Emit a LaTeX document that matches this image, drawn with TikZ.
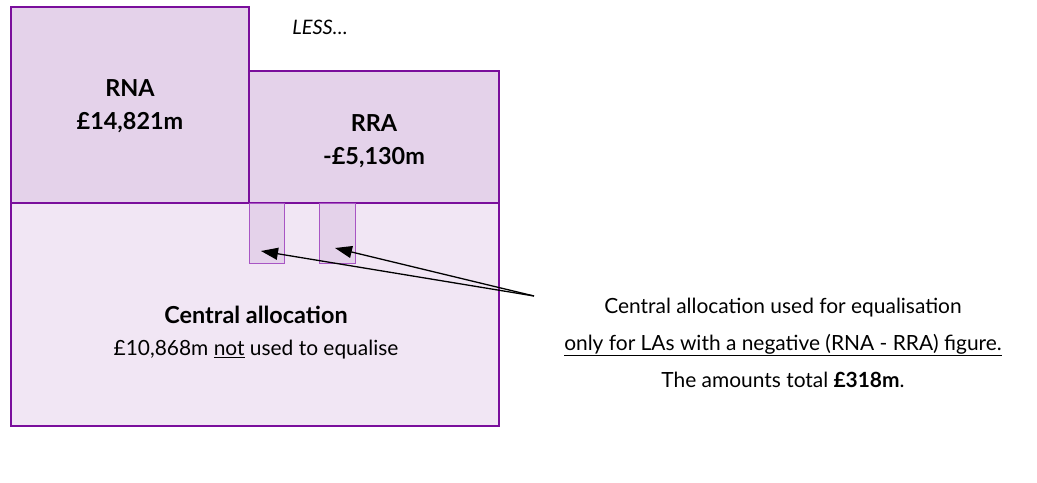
\documentclass[tikz,border=0pt]{standalone}
\usepackage{fontspec}
\setmainfont{Lato}
\usetikzlibrary{arrows.meta}
\definecolor{border}{HTML}{7A0E9C}
\definecolor{lightborder}{HTML}{A855C4}
\definecolor{boxfill}{HTML}{E4D2EA}
\definecolor{centralfill}{HTML}{F1E6F4}
\tikzset{
  bigbox/.style={draw=border, line width=3pt},
  smallbox/.style={draw=lightborder, line width=1pt, fill=boxfill},
  txt/.style={font=\fontsize{21}{24}\selectfont, inner sep=0pt, align=center},
  btxt/.style={font=\fontsize{23.5}{26}\selectfont\bfseries, inner sep=0pt, align=center},
  arr/.style={line width=1.3pt, -{Triangle[length=17bp,width=12bp]}}
}
\begin{document}
\begin{tikzpicture}[x=1bp,y=-1bp]
\useasboundingbox (0,0) rectangle (1037,483);
\draw[bigbox, fill=centralfill] (11,203) rectangle (499,426);
\draw[bigbox, fill=boxfill] (11,7) rectangle (249,203);
\draw[bigbox, fill=boxfill] (249,71) rectangle (499,203);
\node[smallbox, minimum width=35bp, minimum height=60bp, anchor=north west, inner sep=0pt] (s1) at (249,203) {};
\node[smallbox, minimum width=36bp, minimum height=60bp, anchor=north west, inner sep=0pt] (s2) at (319,203) {};
\node[txt, font=\fontsize{20}{24}\selectfont\itshape] (less) at (320,27) {LESS\ldots};
\node[btxt] (rna) at (130,88) {RNA};
\node[btxt] (rnav) at (130,123) {£14,821m};
\node[btxt] (rra) at (374,123) {RRA};
\node[btxt] (rrav) at (374,158) {-£5,130m};
\node[btxt] (cen) at (256,315) {Central allocation};
\node[txt] (cenv) at (256,350) {£10,868m \underline{not} used to equalise};
\node[txt] (r1) at (783,308) {Central allocation used for equalisation};
\node[txt] (r2) at (783,345) {\underline{only for LAs with a negative (RNA - RRA) figure.}};
\node[txt] (r3) at (783,380) {The amounts total \textbf{£318m}.};
\coordinate (src) at (534,296);
\coordinate (t1) at (261,251);
\coordinate (t2) at (335,248);
\draw[arr] (src) -- (t1);
\draw[arr] (src) -- (t2);
\end{tikzpicture}
\end{document}
